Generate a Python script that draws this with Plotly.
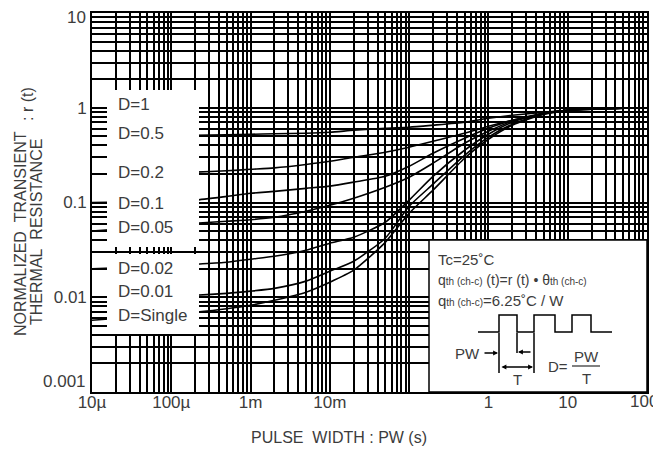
import plotly.graph_objects as go

# ---------------- data ----------------
pw = [1e-5, 1e-4, 2e-4, 5e-4, 1e-3, 2e-3, 5e-3, 1e-2, 2e-2, 5e-2,
      0.1, 0.2, 0.5, 1, 2, 5, 10, 20, 50, 100]

r_d1 = [1.0] * 20
r_d05 = [0.50, 0.507, 0.513, 0.519, 0.525, 0.531, 0.538, 0.551, 0.578, 0.608,
         0.623, 0.654, 0.703, 0.775, 0.834, 0.897, 0.941, 0.964, 0.988, 1.0]
r_d02 = [0.200, 0.205, 0.209, 0.216, 0.224, 0.232, 0.252, 0.272, 0.300, 0.339,
         0.383, 0.443, 0.538, 0.638, 0.738, 0.854, 0.930, 0.964, 0.988, 1.0]
r_d01 = [0.100, 0.103, 0.106, 0.116, 0.125, 0.131, 0.141, 0.149, 0.164, 0.189,
         0.241, 0.331, 0.477, 0.608, 0.738, 0.875, 0.941, 0.976, 0.988, 1.0]
r_d005 = [0.050, 0.0575, 0.0604, 0.0634, 0.0658, 0.0699, 0.0809, 0.0935, 0.111, 0.145,
          0.185, 0.260, 0.422, 0.565, 0.721, 0.875, 0.941, 0.976, 0.988, 1.0]
r_d002 = [0.0200, 0.0215, 0.0223, 0.0234, 0.0252, 0.0271, 0.0313, 0.0372, 0.0430, 0.0619,
          0.106, 0.189, 0.356, 0.525, 0.703, 0.875, 0.941, 0.976, 0.988, 1.0]
r_d001 = [0.0100, 0.0103, 0.0105, 0.0110, 0.0116, 0.0124, 0.0148, 0.0188, 0.0240, 0.0420,
          0.0913, 0.156, 0.315, 0.489, 0.670, 0.864, 0.941, 0.976, 0.988, 1.0]
r_single = [0.00572, 0.00662, 0.00695, 0.00756, 0.00824, 0.00930, 0.0113, 0.0144, 0.0193, 0.0380,
            0.0771, 0.135, 0.293, 0.465, 0.654, 0.854, 0.941, 0.976, 0.988, 1.0]

series = [r_d1, r_d05, r_d02, r_d01, r_d005, r_d002, r_d001, r_single]
labels = ["D=1", "D=0.5", "D=0.2", "D=0.1", "D=0.05", "D=0.02", "D=0.01", "D=Single"]

x_tick_vals = [1e-5, 1e-4, 1e-3, 1e-2, 1e-1, 1, 10, 100]
x_tick_text = ["10µ", "100µ", "1m", "10m", "", "1", "10", ""]
y_tick_vals = [0.001, 0.01, 0.1, 1, 10]
y_tick_text = ["", "0.01", "0.1", "1", ""]

# ---------------- figure ----------------
W, H = 661, 453
OFF = 8                      # page body margin
L, R, T, B = 92, 647, 13, 392  # plot area in screen pixels
FONT = "Liberation Sans, Arial, Helvetica, sans-serif"
TXT = "#3c3c3c"


def px(x):
    return (x - L) / (R - L)


def py(y):
    return (B - y) / (B - T)


minor_x = [k * 10 ** e for e in range(-5, 2) for k in range(2, 10)]
minor_y = [k * 10 ** e for e in range(-3, 1) for k in range(2, 10)]

fig = go.Figure()
for ys, name in zip(series, labels):
    fig.add_trace(go.Scatter(x=pw, y=ys, mode="lines", name=name,
                             line=dict(color="black", width=1.6, shape="spline", smoothing=0.6),
                             showlegend=False, hoverinfo="skip"))

grid = dict(showgrid=True, gridcolor="black", gridwidth=1.5)
common = dict(ticks="", showline=True, linecolor="black", linewidth=1.6, mirror=True,
              automargin=False, ticklabeloverflow="allow",
              tickfont=dict(family=FONT, size=17, color=TXT))
fig.update_xaxes(type="log", range=[-5, 2], tickvals=x_tick_vals, ticktext=x_tick_text,
                 ticklabelstandoff=-6,
                 minor=dict(tickvals=minor_x, ticks="", **grid), **grid, **common)
fig.update_yaxes(type="log", range=[-3, 1], tickvals=y_tick_vals, ticktext=y_tick_text,
                 minor=dict(tickvals=minor_y, ticks="", **grid), **grid, **common)

shapes = []
# white label boxes on the left
shapes.append(dict(type="rect", xref="paper", yref="paper", x0=px(107), x1=px(199),
                   y0=py(247), y1=py(90), fillcolor="white", line=dict(width=0), layer="above"))
shapes.append(dict(type="rect", xref="paper", yref="paper", x0=px(107), x1=px(199),
                   y0=py(334), y1=py(254), fillcolor="white", line=dict(width=0), layer="above"))
# condition box lower right
shapes.append(dict(type="rect", xref="paper", yref="paper", x0=px(429), x1=1,
                   y0=0, y1=py(240), fillcolor="white",
                   line=dict(color="black", width=1.5), layer="above"))
# pulse waveform
wave = [(478, 332), (499, 332), (499, 315), (517, 315), (517, 332), (534, 332), (534, 315),
        (555, 315), (555, 332), (572, 332), (572, 315), (591, 315), (591, 332), (612, 332)]
path = "M " + " L ".join(f"{px(a):.5f},{py(b):.5f}" for a, b in wave)
shapes.append(dict(type="path", xref="paper", yref="paper", path=path,
                   line=dict(color="black", width=1.5), layer="above"))
for xx, y2 in [(499, 373), (517, 353), (534, 373)]:
    shapes.append(dict(type="line", xref="paper", yref="paper", x0=px(xx), x1=px(xx),
                       y0=py(333), y1=py(y2), line=dict(color="black", width=1.5), layer="above"))
# fraction bar
shapes.append(dict(type="line", xref="paper", yref="paper", x0=px(572), x1=px(600),
                   y0=py(366), y1=py(366), line=dict(color=TXT, width=1.3), layer="above"))

ann = []


def text(x, y, s, size=17, xanchor="left", angle=0, color=TXT):
    ann.append(dict(x=px(x), y=py(y), xref="paper", yref="paper", text=s, showarrow=False,
                    xanchor=xanchor, yanchor="middle", textangle=angle,
                    font=dict(family=FONT, size=size, color=color)))


# curve labels
label_y = [105, 133, 172, 203, 227, 268, 291, 315]
for s, yy in zip(labels, label_y):
    text(116, yy, s)

# end tick labels nudged inside the page, as in the reference
text(88, 381, "0.001", xanchor="right")
text(88, 17, "10", xanchor="right")
text(660, 401, "100", xanchor="right")

# axis titles
text(339, 437, "PULSE&#160;&#160;WIDTH : PW (s)", size=16, xanchor="center")
text(20, 234, "NORMALIZED&#160;&#160;TRANSIENT", size=16, xanchor="center", angle=-90)
text(36, 232, "THERMAL&#160;&#160;RESISTANCE", size=16, xanchor="center", angle=-90)
text(27, 104, ": r (t)", size=16, xanchor="center", angle=-90)

# condition box text
sm = "<span style='font-size:10px'>th (ch-c)</span>"
text(436, 259, "Tc=25˚C", size=15)
text(436, 280, f"q{sm} (t)=r (t) • θ{sm}", size=14)
text(436, 300, f"q{sm}=6.25˚C / W", size=15)
text(482, 353, "PW", size=15, xanchor="right")
text(517, 379, "T", size=15, xanchor="center")
text(570, 366, "D=", size=15, xanchor="right")
text(586, 356, "PW", size=15, xanchor="center")
text(586, 378, "T", size=15, xanchor="center")

# arrows
arrow = dict(xref="paper", yref="paper", text="", showarrow=True, arrowhead=2,
             arrowsize=0.7, arrowwidth=1.4, arrowcolor="black", standoff=0, startstandoff=0)
ann.append(dict(x=px(498), y=py(353), ax=-15, ay=0, **arrow))
ann.append(dict(x=px(518), y=py(352), ax=14, ay=0, **arrow))
ann.append(dict(x=px(533), y=py(367), ax=-33, ay=0, arrowside="end+start", **arrow))

fig.update_layout(width=W, height=H,
                  margin=dict(l=L - OFF, r=W + OFF - R, t=T - OFF, b=H + OFF - B, pad=0,
                              autoexpand=False),
                  paper_bgcolor="white", plot_bgcolor="white",
                  shapes=shapes, annotations=ann, showlegend=False,
                  font=dict(family=FONT, color=TXT))

fig.write_html("out.html")
